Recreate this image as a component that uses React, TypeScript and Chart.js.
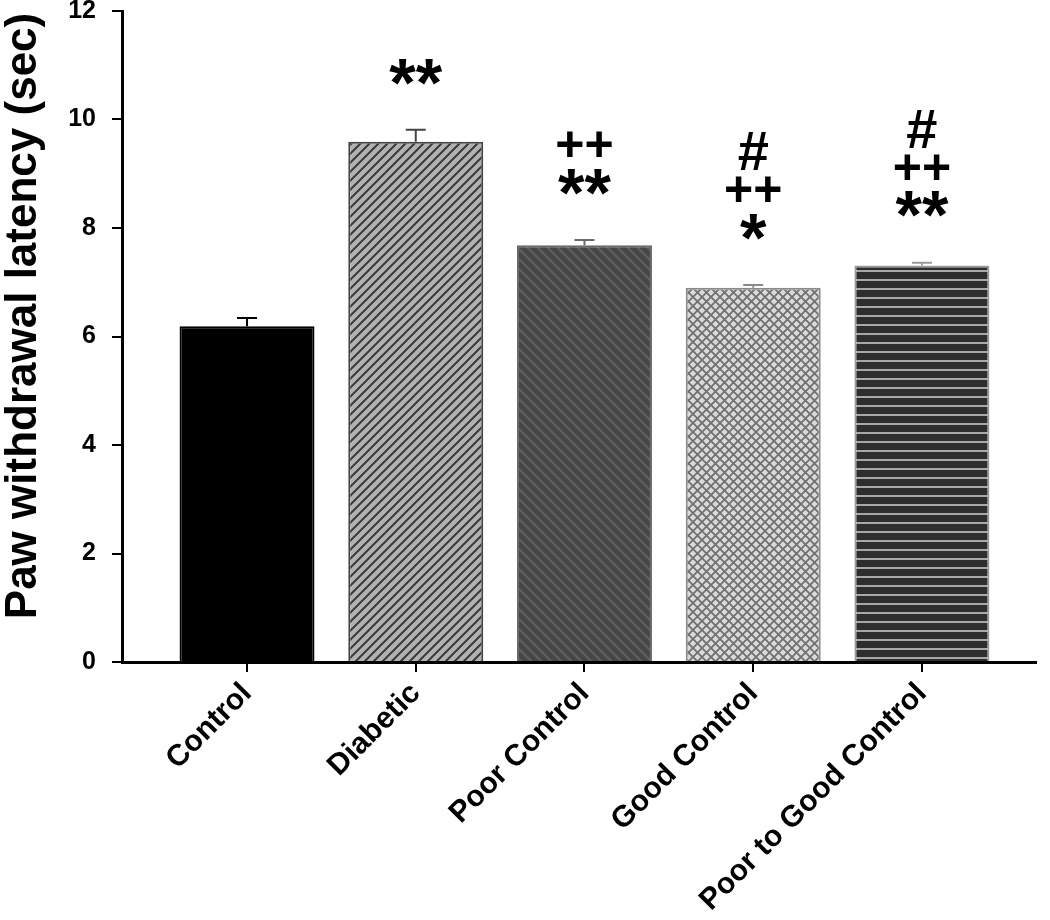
import React, { useEffect, useRef } from "react";
import { Chart, registerables } from "chart.js";

Chart.register(...registerables);

const categories = ["Control", "Diabetic", "Poor Control", "Good Control", "Poor to Good Control"];
const values = [6.19, 9.59, 7.68, 6.9, 7.31];
const errors = [0.15, 0.22, 0.1, 0.05, 0.05];
const annotations: string[][] = [[], ["**"], ["++", "**"], ["#", "++", "*"], ["#", "++", "**"]];
const yTicks = [0, 2, 4, 6, 8, 10, 12];
const yTitle = "Paw withdrawal latency (sec)";

const FONT = "'Liberation Sans', Arial, sans-serif";

function makePattern(kind: string): CanvasPattern | string {
  const c = document.createElement("canvas");
  const ctx = c.getContext("2d")!;
  if (kind === "diag") {
    const s = 9;
    c.width = s; c.height = s;
    ctx.fillStyle = "#b2b2b2";
    ctx.fillRect(0, 0, s, s);
    ctx.strokeStyle = "#3a3a3a";
    ctx.lineWidth = 2;
    ctx.beginPath();
    ctx.moveTo(-1, s + 1); ctx.lineTo(s + 1, -1);
    ctx.moveTo(-1, 1); ctx.lineTo(1, -1);
    ctx.moveTo(s - 1, s + 1); ctx.lineTo(s + 1, s - 1);
    ctx.stroke();
  } else if (kind === "back") {
    const s = 10;
    c.width = s; c.height = s;
    ctx.fillStyle = "#464646";
    ctx.fillRect(0, 0, s, s);
    ctx.strokeStyle = "#5e5e5e";
    ctx.lineWidth = 2.5;
    ctx.beginPath();
    ctx.moveTo(-1, -1); ctx.lineTo(s + 1, s + 1);
    ctx.moveTo(s - 1, -1); ctx.lineTo(s + 1, 1);
    ctx.moveTo(-1, s - 1); ctx.lineTo(1, s + 1);
    ctx.stroke();
  } else if (kind === "cross") {
    const s = 9;
    c.width = s; c.height = s;
    ctx.fillStyle = "#dadada";
    ctx.fillRect(0, 0, s, s);
    ctx.strokeStyle = "#707070";
    ctx.lineWidth = 1.8;
    ctx.beginPath();
    ctx.moveTo(-1, -1); ctx.lineTo(s + 1, s + 1);
    ctx.moveTo(-1, s + 1); ctx.lineTo(s + 1, -1);
    ctx.stroke();
  } else if (kind === "horiz") {
    const s = 9;
    c.width = s; c.height = s;
    ctx.fillStyle = "#2e2e2e";
    ctx.fillRect(0, 0, s, s);
    ctx.fillStyle = "#a8a8a8";
    ctx.fillRect(0, 0, s, 2);
  } else {
    return "#000";
  }
  return ctx.createPattern(c, "repeat")!;
}

const patternKinds = ["solid", "diag", "back", "cross", "horiz"];
const borderColors = ["#000000", "#444444", "#6a6a6a", "#8a8a8a", "#9a9a9a"];

const extrasPlugin = {
  id: "extras",
  afterDatasetsDraw(chart: any) {
    const ctx = chart.ctx;
    const xs = chart.scales.x;
    const ys = chart.scales.y;
    ctx.save();
    values.forEach((v, i) => {
      const x = xs.getPixelForValue(i);
      const yTop = ys.getPixelForValue(v);
      const yErr = ys.getPixelForValue(v + errors[i]);
      ctx.strokeStyle = borderColors[i];
      ctx.lineWidth = 2;
      ctx.beginPath();
      ctx.moveTo(x, yTop);
      ctx.lineTo(x, yErr);
      ctx.moveTo(x - 10, yErr);
      ctx.lineTo(x + 10, yErr);
      ctx.stroke();
      const lines = annotations[i];
      ctx.fillStyle = "#000";
      ctx.textAlign = "center";
      ctx.textBaseline = "middle";
      const n = lines.length;
      lines.forEach((t, k) => {
        const fromBottom = n - 1 - k;
        let cy = yErr - 57 - fromBottom * 36;
        let size = 50;
        if (t.includes("*")) { size = 68; cy += 14; }
        if (t.includes("#")) { size = 56; cy -= 1; }
        ctx.font = `bold ${size}px ${FONT}`;
        ctx.fillText(t, x, cy);
      });
    });
    // y-axis title
    ctx.translate(24, 316);
    ctx.rotate(-Math.PI / 2);
    ctx.font = `bold 44px ${FONT}`;
    ctx.textAlign = "center";
    ctx.textBaseline = "middle";
    ctx.fillStyle = "#000";
    ctx.fillText(yTitle, 0, 0);
    ctx.restore();
  },
};

export default function App() {
  const ref = useRef<HTMLCanvasElement | null>(null);
  useEffect(() => {
    if (!ref.current) return;
    const bgs = patternKinds.map((k) => makePattern(k));
    const chart = new Chart(ref.current, {
      type: "bar",
      data: {
        datasets: [
          {
            data: values.map((v, i) => ({ x: i, y: v })),
            backgroundColor: bgs as any,
            borderColor: borderColors,
            borderWidth: 2,
            barPercentage: 0.8,
            categoryPercentage: 1.0,
          },
        ],
      },
      options: {
        animation: false,
        responsive: false,
        maintainAspectRatio: false,
        layout: { padding: { top: 11, right: 14, left: 0, bottom: 0 } },
        plugins: { legend: { display: false }, tooltip: { enabled: false } },
        scales: {
          x: {
            type: "linear",
            offset: false,
            min: -0.741,
            max: 4.676,
            afterBuildTicks: (scale: any) => {
              scale.ticks = categories.map((_, i) => ({ value: i }));
            },
            afterFit: (scale: any) => {
              scale.height = 258;
              scale.paddingLeft = 0;
              scale.paddingRight = 0;
            },
            ticks: {
              autoSkip: false,
              minRotation: 45,
              maxRotation: 45,
              padding: 4,
              color: "#000",
              font: { family: FONT, size: 30, weight: "bold" },
              callback: (v: any) => categories[Math.round(Number(v))] ?? "",
            },
            grid: {
              offset: false,
              drawOnChartArea: false,
              drawTicks: true,
              tickLength: 10,
              color: "#000",
              lineWidth: 2,
            },
            border: { display: true, color: "#000", width: 3 },
          },
          y: {
            type: "linear",
            min: 0,
            max: 12,
            afterBuildTicks: (scale: any) => {
              scale.ticks = yTicks.map((v) => ({ value: v }));
            },
            afterFit: (scale: any) => {
              scale.width = 122;
              scale.paddingTop = 0;
              scale.paddingBottom = 0;
            },
            ticks: {
              padding: 16,
              color: "#000",
              font: { family: FONT, size: 25, weight: "bold" },
            },
            grid: {
              drawOnChartArea: false,
              drawTicks: true,
              tickLength: 10,
              color: "#000",
              lineWidth: 2,
            },
            border: { display: true, color: "#000", width: 3 },
          },
        },
      },
      plugins: [extrasPlugin],
    });
    return () => chart.destroy();
  }, []);
  return (
    <div style={{ position: "fixed", left: 0, top: 0, width: 1050, height: 920, background: "#fff" }}>
      <canvas ref={ref} width={1050} height={920} style={{ width: 1050, height: 920, display: "block" }} />
    </div>
  );
}
